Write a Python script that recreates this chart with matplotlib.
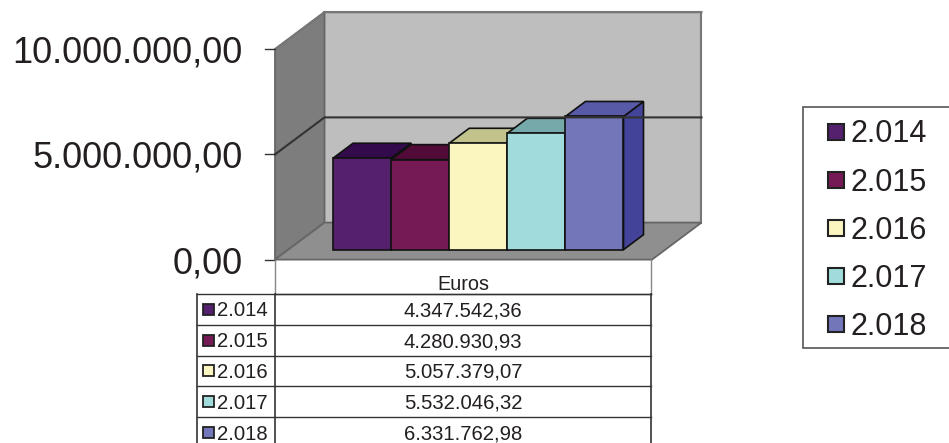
import matplotlib
matplotlib.use("Agg")
import matplotlib.pyplot as plt
from matplotlib.patches import Polygon, Rectangle

plt.rcParams['font.family'] = ['Liberation Sans', 'DejaVu Sans']

years = ['2.014', '2.015', '2.016', '2.017', '2.018']
euros = [4347542.36, 4280930.93, 5057379.07, 5532046.32, 6331762.98]
euro_labels = ['4.347.542,36', '4.280.930,93', '5.057.379,07', '5.532.046,32', '6.331.762,98']
tick_values = [0, 5000000, 10000000]
tick_labels = ['0,00', '5.000.000,00', '10.000.000,00']

front_colors = ['#55206e', '#761a55', '#fbf6c0', '#a2dbdc', '#7476ba']
top_colors = ['#330a4c', '#520a38', '#c2c28c', '#76a9a9', '#585aa8']
side_colors = ['#3a1050', '#520f3c', '#bdbb85', '#6f9f9f', '#434399']
text_color = '#231f20'
edge = '#111111'

# pixel layout of the fake 3d box
px_per_unit = 210.4 / 10000000
wall_x0, wall_x1 = 275, 652
floor_y = 259.6
depth_x, depth_y = 49.5, -37
bar_base = 249.7
bar_left = 333
bar_w = 58.1
bar_dx, bar_dy = 20, -15

fig = plt.figure(figsize=(9.49, 4.43), dpi=100)
ax = fig.add_axes([0, 0, 1, 1])
ax.set_xlim(0, 949)
ax.set_ylim(443, 0)
ax.axis('off')


def val_y(v):
    return floor_y - v * px_per_unit


top_y = val_y(tick_values[-1])

# back wall, left wall, floor
ax.add_patch(Polygon([(wall_x0 + depth_x, floor_y + depth_y), (wall_x1 + depth_x, floor_y + depth_y),
                      (wall_x1 + depth_x, top_y + depth_y), (wall_x0 + depth_x, top_y + depth_y)],
                     fc='#bebebe', ec='#777777', lw=1.5))
ax.add_patch(Polygon([(wall_x0, floor_y), (wall_x0 + depth_x, floor_y + depth_y),
                      (wall_x0 + depth_x, top_y + depth_y), (wall_x0, top_y)],
                     fc='#7d7d7d', ec='#666666', lw=1.3))
ax.add_patch(Polygon([(wall_x0, floor_y), (wall_x1, floor_y),
                      (wall_x1 + depth_x, floor_y + depth_y), (wall_x0 + depth_x, floor_y + depth_y)],
                     fc='#8f8f8f', ec='#666666', lw=1.3))

# gridlines and ticks
for v in tick_values[1:]:
    y = val_y(v)
    grid_col = '#333333' if v < tick_values[-1] else '#777777'
    ax.plot([wall_x0, wall_x0 + depth_x, wall_x1 + depth_x], [y, y + depth_y, y + depth_y],
            color=grid_col, lw=1.5, solid_joinstyle='miter')
for v, lab in zip(tick_values, tick_labels):
    y = val_y(v)
    ax.plot([wall_x0 - 10, wall_x0], [y, y], color='#333333', lw=1)
    ax.text(243, y + 13.5, lab, ha='right', va='baseline', fontsize=26, color=text_color)

# bars
for i, v in enumerate(euros):
    x0 = bar_left + i * bar_w
    x1 = x0 + bar_w
    h = v * px_per_unit
    ty = bar_base - h
    ax.add_patch(Polygon([(x1, bar_base), (x1 + bar_dx, bar_base + bar_dy),
                          (x1 + bar_dx, ty + bar_dy), (x1, ty)],
                         fc=side_colors[i], ec=edge, lw=1.2, joinstyle='miter'))
    ax.add_patch(Polygon([(x0, ty), (x1, ty), (x1 + bar_dx, ty + bar_dy), (x0 + bar_dx, ty + bar_dy)],
                         fc=top_colors[i], ec=edge, lw=1.2, joinstyle='miter'))
    ax.add_patch(Rectangle((x0, ty), bar_w, h, fc=front_colors[i], ec=edge, lw=1.2))

# data table
tab_x0, tab_x1, tab_x2 = 197.3, 275, 651.5
head_y = 293.7
row_h = 30.9
rows_y = [head_y + i * row_h for i in range(len(years) + 1)]
line_col = '#333333'
ax.plot([tab_x1, tab_x1], [floor_y, head_y], color='#888888', lw=1)
ax.plot([tab_x2, tab_x2], [floor_y, head_y], color='#888888', lw=1)
ax.plot([tab_x1, tab_x2], [head_y, head_y], color='#555555', lw=1)
ax.text((tab_x1 + tab_x2) / 2, 290, 'Euros', ha='center', va='baseline', fontsize=14.3, color=text_color)
for y in rows_y[:-1]:
    ax.plot([tab_x0, tab_x2], [y, y], color=line_col, lw=1)
for x in (tab_x0, tab_x1, tab_x2):
    ax.plot([x, x], [head_y, rows_y[-1]], color=line_col, lw=1.2)
for i, (yr, lab) in enumerate(zip(years, euro_labels)):
    yc = rows_y[i] + row_h / 2
    ax.add_patch(Rectangle((203.5, yc - 5.5), 11, 11, fc=front_colors[i], ec='#222222', lw=1.3))
    ax.text(217.5, yc + 7, yr, ha='left', va='baseline', fontsize=14.6, color=text_color)
    ax.text((tab_x1 + tab_x2) / 2, yc + 7, lab, ha='center', va='baseline', fontsize=14.6, color=text_color)

# legend box, runs off the right edge
ax.add_patch(Rectangle((802.7, 106.7), 160, 241.3, fc='white', ec='#555555', lw=1.2))
leg_y = [131.7, 180, 228, 276.3, 324.3]
for yr, col, y in zip(years, front_colors, leg_y):
    ax.add_patch(Rectangle((828, y - 8), 16, 16, fc=col, ec='#222222', lw=1.5))
    ax.text(851, y + 10.5, yr, ha='left', va='baseline', fontsize=22, color=text_color)

fig.savefig('out.png', dpi=100)
